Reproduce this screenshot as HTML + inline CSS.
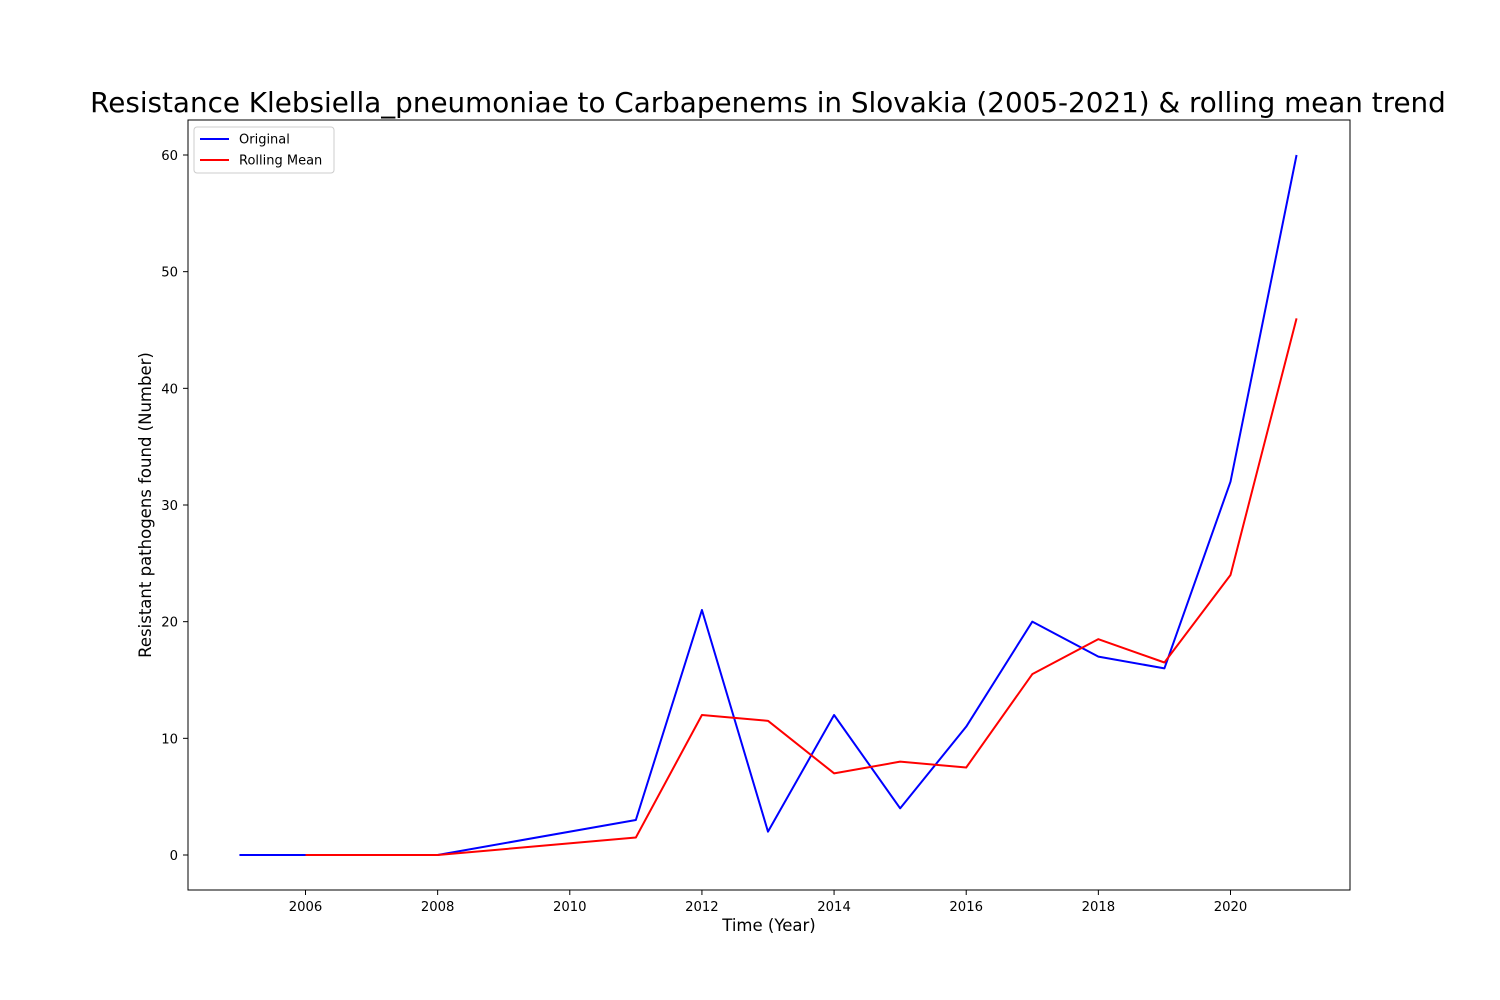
<!DOCTYPE html>
<html>
<head>
<meta charset="utf-8">
<style>
html,body{margin:0;padding:0;background:#fff;}
svg{display:block;font-family:"DejaVu Sans","Liberation Sans",sans-serif;}
</style>
</head>
<body>
<svg id="chart" width="1500" height="1000" viewBox="0 0 1500 1000">
<rect x="0" y="0" width="1500" height="1000" fill="#fff"/>
<text x="768" y="112" font-size="27.8" text-anchor="middle">Resistance Klebsiella_pneumoniae to Carbapenems in Slovakia (2005-2021) &amp; rolling mean trend</text>
<g id="xticks"></g>
<g id="yticks"></g>
<g id="series"></g>
<rect x="188" y="120" width="1162" height="770" fill="none" stroke="#000" stroke-width="1"/>
<text x="769" y="931" font-size="16.5" text-anchor="middle">Time (Year)</text>
<text transform="translate(151,505) rotate(-90)" font-size="16.5" text-anchor="middle">Resistant pathogens found (Number)</text>
<g>
<rect x="194" y="127" width="140" height="46" rx="3" fill="#fff" stroke="#ccc"/>
<line x1="200" y1="139" x2="229" y2="139" stroke="#0000ff" stroke-width="2"/>
<text x="239" y="143.5" font-size="13">Original</text>
<line x1="200" y1="160" x2="229" y2="160" stroke="#ff0000" stroke-width="2"/>
<text x="239" y="164.5" font-size="13">Rolling Mean</text>
</g>
</svg>
<script>
const origYears = [2005,2006,2008,2011,2012,2013,2014,2015,2016,2017,2018,2019,2020,2021];
const origValues = [0,0,0,3,21,2,12,4,11,20,17,16,32,60];
const rollYears = [2006,2008,2011,2012,2013,2014,2015,2016,2017,2018,2019,2020,2021];
const rollValues = [0,0,1.5,12,11.5,7,8,7.5,15.5,18.5,16.5,24,46];
const xTickLabels = [2006,2008,2010,2012,2014,2016,2018,2020];
const yTickLabels = [0,10,20,30,40,50,60];

const NS = "http://www.w3.org/2000/svg";
function xScale(v){ return 305.5 + (v - 2006) * (1230.5 - 305.5) / 14; }
function yScale(v){ return 855 - v * (855 - 155) / 60; }
function mk(tag, attrs, parent){
  const e = document.createElementNS(NS, tag);
  for (const k in attrs) e.setAttribute(k, attrs[k]);
  parent.appendChild(e);
  return e;
}
const xg = document.getElementById('xticks');
xTickLabels.forEach(t => {
  const x = xScale(t);
  const l = mk('line', {x1:x, y1:890, x2:x, y2:895, stroke:'#000'}, xg);
  
  
  const tx = mk('text', {x:x, y:911, 'font-size':13.2, 'text-anchor':'middle'}, xg);
  tx.textContent = t;
  
  
});
const yg = document.getElementById('yticks');
yTickLabels.forEach(t => {
  const y = yScale(t);
  const l = mk('line', {x1:183, y1:y, x2:188, y2:y, stroke:'#000'}, yg);
  
  
  const tx = mk('text', {x:178, y:y + 5, 'font-size':13.2, 'text-anchor':'end'}, yg);
  tx.textContent = t;
  
  
});
const sg = document.getElementById('series');
function pts(xs, ys){ return xs.map((x,i) => xScale(x).toFixed(2) + ',' + yScale(ys[i]).toFixed(2)).join(' '); }
const p1 = mk('polyline', {points: pts(origYears, origValues), fill:'none', stroke:'#0000ff', 'stroke-width':2, 'stroke-linejoin':'round'}, sg);


const p2 = mk('polyline', {points: pts(rollYears, rollValues), fill:'none', stroke:'#ff0000', 'stroke-width':2, 'stroke-linejoin':'round'}, sg);


</script>
</body>
</html>
